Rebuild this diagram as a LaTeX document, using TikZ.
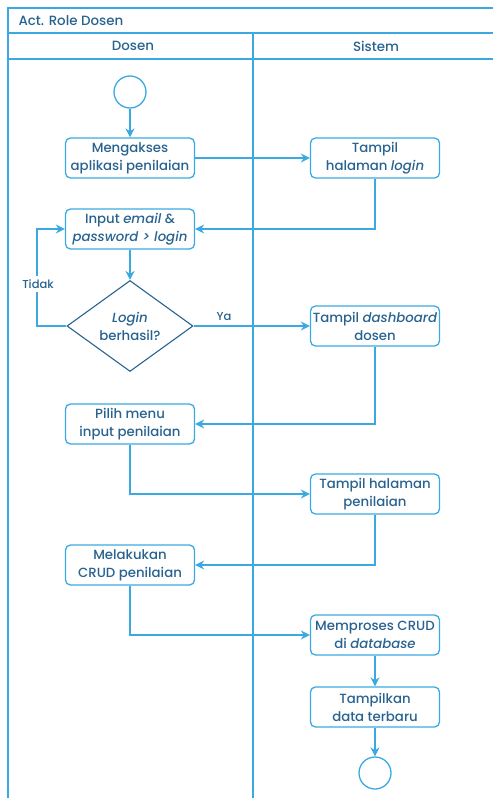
\documentclass[tikz,border=0pt]{standalone}
\usepackage{fontspec}
\setmainfont{Poppins}[UprightFont=* Medium,ItalicFont=* Medium Italic,BoldFont=* SemiBold]
\usetikzlibrary{shapes.geometric,arrows.meta}
\definecolor{lb}{HTML}{3BA9E1}
\definecolor{tx}{HTML}{286390}
\begin{document}
\begin{tikzpicture}[x=1pt,y=-1pt,
  ln/.style={draw=lb,line width=1.3pt},
  act/.style={draw=lb,line width=1.3pt,rounded corners=5pt,minimum width=129pt,minimum height=40pt,align=center,text=tx,font=\fontsize{13.3}{18}\selectfont,inner sep=1pt},
  arr/.style={draw=lb,line width=1.3pt,-{Stealth[length=9pt,width=9pt]}},
  lbl/.style={text=tx,font=\fontsize{11.5}{13}\selectfont},
  hdr/.style={text=tx,font=\fontsize{13.4}{15}\selectfont},
  circ/.style={circle,draw=lb,line width=1.3pt,minimum size=32pt,inner sep=0pt}]
\useasboundingbox (0,0) rectangle (493,798);
% frame
\draw[ln] (493,8) -- (8,8) -- (8,798);
\draw[ln] (8,33) -- (493,33);
\draw[ln] (8,59) -- (493,59);
\draw[ln] (253,33) -- (253,798);
\node[hdr,anchor=west] (title) at (15,20.5) {Act. Role Dosen};
\node[hdr] (h1) at (133,46) {Dosen};
\node[hdr] (h2) at (376,46) {Sistem};
% nodes
\node[circ] (start) at (130,92) {};
\node[act] (a1) at (130,158) {Mengakses\\aplikasi penilaian};
\node[act] (s1) at (375,158) {Tampil\\halaman \textit{login}};
\node[act] (a2) at (130,229) {Input \textit{email} \&\\\textit{password > login}};
\node[diamond,draw=tx,line width=1.1pt,minimum width=126pt,minimum height=91pt,aspect=1.385,inner sep=0pt,align=center,text=tx,font=\fontsize{13.3}{18}\selectfont] (d) at (130,326) {\textit{Login}\\berhasil?};
\node[act] (s2) at (375,326) {Tampil \textit{dashboard}\\dosen};
\node[act] (a3) at (130,424) {Pilih menu\\input penilaian};
\node[act] (s3) at (375,494) {Tampil halaman\\penilaian};
\node[act] (a4) at (130,565) {Melakukan\\CRUD penilaian};
\node[act] (s4) at (375,635) {Memproses CRUD\\di \textit{database}};
\node[act] (s5) at (375,707) {Tampilkan\\data terbaru};
\node[circ] (end) at (375,773) {};
\coordinate (tk) at (37,326);
% edges
\draw[arr] (start) -- (a1);
\draw[arr] (a1) -- (s1);
\draw[arr] (s1.south) |- (a2.east);
\draw[arr] (a2) -- (d);
\draw[arr] (d.west) -- (tk) |- (a2.west);
\node[fill=white,lbl] (tidak) at (38,284) {Tidak};
\draw[arr] (d.east) -- (s2.west);
\node[lbl] (ya) at (224,317) {Ya};
\draw[arr] (s2.south) |- (a3.east);
\draw[arr] (a3.south) |- (s3.west);
\draw[arr] (s3.south) |- (a4.east);
\draw[arr] (a4.south) |- (s4.west);
\draw[arr] (s4) -- (s5);
\draw[arr] (s5) -- (end);
\end{tikzpicture}
\end{document}
